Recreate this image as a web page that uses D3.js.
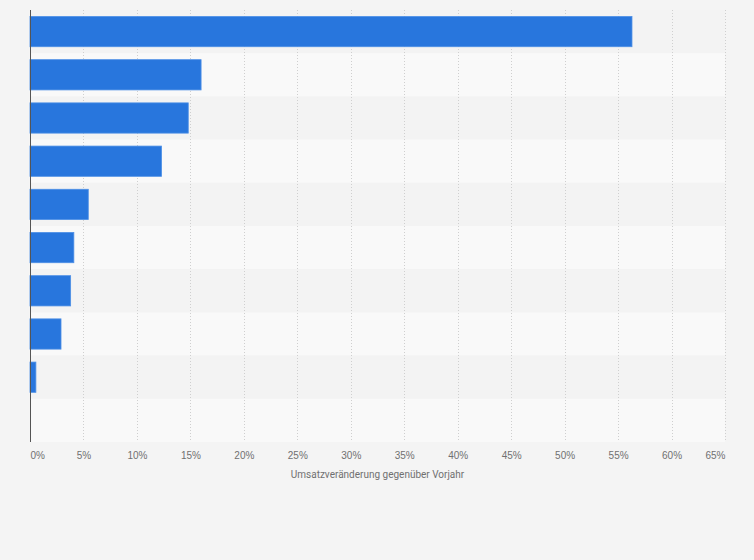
<!DOCTYPE html>
<html lang="de">
<head>
<meta charset="utf-8">
<title>Umsatzveränderung</title>
<style>
  body, html { margin: 0; padding: 0; background: #f4f4f4; }
  svg { display: block; font-family: Roboto, "Liberation Sans", sans-serif; }
  .grid line { stroke: #cfcfcf; stroke-dasharray: 1,2; }
  .axis text { fill: #707070; font-size: 10px; }
</style>
<script src="https://cdn.jsdelivr.net/npm/d3@7"></script>
</head>
<body>
<svg id="chart" width="754" height="560"></svg>
<script>
// rows from top to bottom (labels are not shown in the picture)
var categories = ["1", "2", "3", "4", "5", "6", "7", "8", "9", "10"];
var values = [56.3, 16.0, 14.8, 12.3, 5.45, 4.1, 3.8, 2.9, 0.55, 0];
var ticks = [0, 5, 10, 15, 20, 25, 30, 35, 40, 45, 50, 55, 60, 65];
var axisTitle = "Umsatzveränderung gegenüber Vorjahr";

var svg = d3.select("#chart");
var plotLeft = 30, plotRight = 725, plotTop = 10, plotBottom = 442;

var x = d3.scaleLinear().domain([0, 65]).range([plotLeft, plotRight]);
var y = d3.scaleBand().domain(categories).range([plotTop, plotBottom]).paddingInner(0.3).paddingOuter(0.15);
var rows = d3.scaleBand().domain(categories).range([plotTop, plotBottom]);

// alternating row bands
svg.append("g").selectAll("rect")
    .data(categories)
    .enter().append("rect")
    .attr("x", plotLeft)
    .attr("y", function(d) { return rows(d); })
    .attr("width", plotRight - plotLeft)
    .attr("height", rows.bandwidth())
    .attr("fill", function(d, i) { return i % 2 ? "#f9f9f9" : "#f3f3f3"; });

// vertical grid lines
svg.append("g").attr("class", "grid")
    .selectAll("line")
    .data(ticks.slice(1))
    .enter().append("line")
    .attr("x1", function(d) { return Math.round(x(d)) + 0.5; })
    .attr("x2", function(d) { return Math.round(x(d)) + 0.5; })
    .attr("y1", plotTop)
    .attr("y2", plotBottom);

// bars
svg.append("g").selectAll("rect")
    .data(values)
    .enter().append("rect")
    .attr("x", x(0))
    .attr("y", function(d, i) { return y(categories[i]); })
    .attr("width", function(d) { return x(d) - x(0); })
    .attr("height", y.bandwidth())
    .attr("fill", "#2876dd")
    .attr("stroke", function(d) { return d > 0 ? "#4d8fe6" : "none"; })
    .attr("stroke-width", 0.8);

// left axis line
svg.append("line")
    .attr("x1", plotLeft + 0.5).attr("x2", plotLeft + 0.5)
    .attr("y1", plotTop).attr("y2", plotBottom)
    .attr("stroke", "#555").attr("stroke-width", 1);

// x axis tick labels
var xAxis = d3.axisBottom(x)
    .tickValues(ticks)
    .tickSize(0)
    .tickPadding(0)
    .tickFormat(function(d) { return d + "%"; });

var ax = svg.append("g")
    .attr("class", "axis")
    .attr("transform", "translate(0," + 452 + ")")
    .call(xAxis);
ax.select(".domain").remove();
ax.selectAll("text")
    .attr("text-anchor", function(d) { return d === 0 ? "start" : (d === 65 ? "end" : "middle"); });

svg.append("text")
    .attr("x", (plotLeft + plotRight) / 2)
    .attr("y", 478)
    .attr("text-anchor", "middle")
    .attr("fill", "#707070")
    .attr("font-size", "10px")
    .text(axisTitle);
</script>
</body>
</html>
